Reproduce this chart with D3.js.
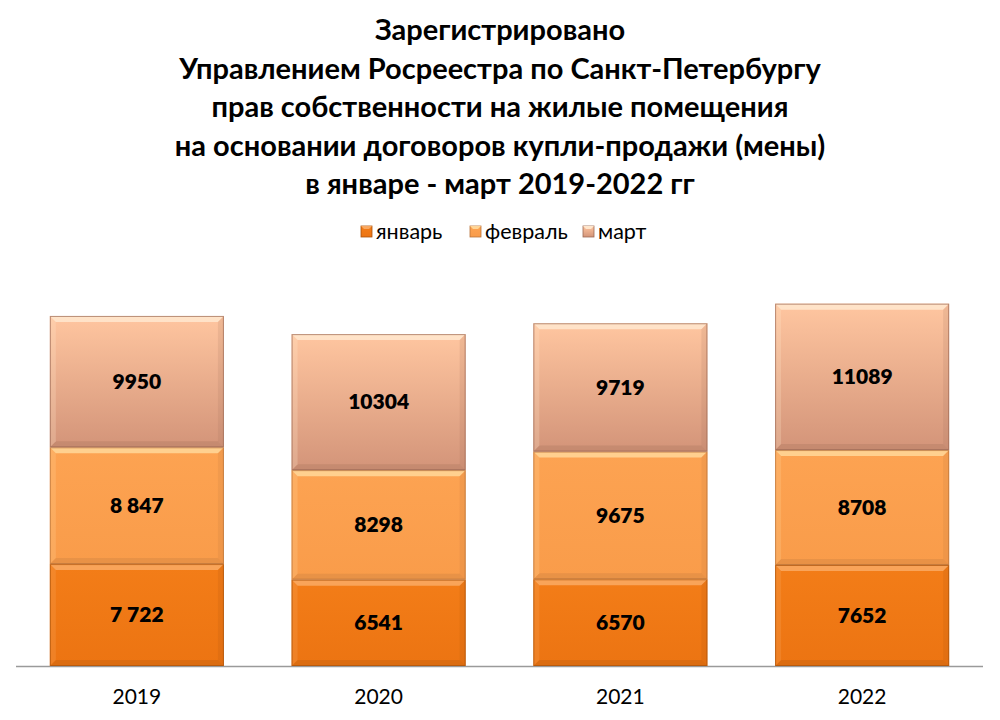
<!DOCTYPE html>
<html lang="ru">
<head>
  <meta charset="UTF-8">
  <title>Росреестр СПб</title>
</head>
<style>
  body { margin: 0; background: #fff; }
  * { font-family: "Lato", "Open Sans", sans-serif; }
  .title { font-size: 29px; font-weight: 700; fill: #000; }
  .legend-label { font-size: 21.5px; fill: #000; }
  .year-label { font-size: 21px; fill: #000; }
  .value-label { font-size: 21px; font-weight: 800; fill: #000; }
</style>
<body>
  <div id="chart"></div>

  <script src="https://d3js.org/d3.v7.min.js"></script>
  <script>

    // ## Data
    const years = ["2019", "2020", "2021", "2022"];
    const seriesNames = ["январь", "февраль", "март"];
    const january = [7722, 6541, 6570, 7652];
    const february = [8847, 8298, 9675, 8708];
    const march = [9950, 10304, 9719, 11089];
    const januaryLabels = ["7 722", "6541", "6570", "7652"];
    const februaryLabels = ["8 847", "8298", "9675", "8708"];
    const marchLabels = ["9950", "10304", "9719", "11089"];
    const titleLines = [
      "Зарегистрировано",
      "Управлением Росреестра по Санкт-Петербургу",
      "прав собственности на жилые помещения",
      "на основании договоров купли-продажи (мены)",
      "в январе - март 2019-2022 гг"
    ];

    const width = 1000, height = 720;

    const svg = d3.select("#chart")
      .append("svg")
        .attr("width", width)
        .attr("height", height);

    // colours: base gradient top/bottom, bevel highlight, edge shadow
    const palette = [
      {top: "#F37D18", bottom: "#EC7412", light: "#F9A860", dark: "#A9520C"},
      {top: "#FDA352", bottom: "#F99C4A", light: "#FFD596", dark: "#B8733A"},
      {top: "#FFC6A0", bottom: "#D39479", light: "#FFE6CC", dark: "#9C6A55"}
    ];

    const defs = svg.append("defs");
    palette.forEach((p, i) => {
      const g = defs.append("linearGradient")
        .attr("id", "grad" + i)
        .attr("x1", 0).attr("x2", 0).attr("y1", 0).attr("y2", 1);
      g.append("stop").attr("offset", "0%").attr("stop-color", p.top);
      g.append("stop").attr("offset", "100%").attr("stop-color", p.bottom);
    });

    // ## Title
    titleLines.forEach((line, i) => {
      svg.append("text")
        .attr("class", "title")
        .attr("x", 500)
        .attr("y", 40 + i * 38.5)
        .attr("text-anchor", "middle")
        .text(line);
    });

    // ## Scales
    const xScale = d3.scaleBand()
      .domain(years)
      .range([16, 983])
      .paddingInner(0.28)
      .paddingOuter(0.14);

    const yScale = d3.scaleLinear()
      .domain([0, 30000])
      .range([666, 270]);

    // ## Stack
    const table = years.map((y, i) => ({
      year: y,
      "январь": january[i],
      "февраль": february[i],
      "март": march[i]
    }));
    const labelsBySeries = [januaryLabels, februaryLabels, marchLabels];
    const stacked = d3.stack().keys(seriesNames)(table);

    // X axis line
    svg.append("line")
      .attr("x1", xScale.range()[0])
      .attr("x2", xScale.range()[1])
      .attr("y1", yScale(0) + 0.5)
      .attr("y2", yScale(0) + 0.5)
      .attr("stroke", "#9a9a9a")
      .attr("stroke-width", 1.5);

    // ## Bars with bevel
    const bw = xScale.bandwidth();
    const bev = 6;

    stacked.forEach((layer, si) => {
      const p = palette[si];
      const g = svg.append("g").attr("class", "series-" + si);
      layer.forEach((d, i) => {
        const x0 = xScale(years[i]);
        const yTop = yScale(d[1]);
        const yBot = yScale(d[0]);
        const h = yBot - yTop;
        const seg = g.append("g");

        seg.append("rect")
          .attr("x", x0).attr("y", yTop)
          .attr("width", bw).attr("height", h)
          .attr("fill", `url(#grad${si})`);

        // top bevel
        seg.append("path")
          .attr("d", `M${x0},${yTop} L${x0 + bw},${yTop} L${x0 + bw - bev},${yTop + bev} L${x0 + bev},${yTop + bev} Z`)
          .attr("fill", p.light)
          .attr("opacity", 0.9);
        // bottom bevel
        seg.append("path")
          .attr("d", `M${x0},${yBot} L${x0 + bw},${yBot} L${x0 + bw - bev},${yBot - bev} L${x0 + bev},${yBot - bev} Z`)
          .attr("fill", p.dark)
          .attr("opacity", 0.25);
        // right bevel
        seg.append("path")
          .attr("d", `M${x0 + bw},${yTop} L${x0 + bw},${yBot} L${x0 + bw - bev},${yBot - bev} L${x0 + bw - bev},${yTop + bev} Z`)
          .attr("fill", p.dark)
          .attr("opacity", 0.15);
        // left bevel
        seg.append("path")
          .attr("d", `M${x0},${yTop} L${x0},${yBot} L${x0 + bev},${yBot - bev} L${x0 + bev},${yTop + bev} Z`)
          .attr("fill", p.light)
          .attr("opacity", 0.25);
        // outline
        seg.append("rect")
          .attr("x", x0 + 0.5).attr("y", yTop + 0.5)
          .attr("width", bw - 1).attr("height", h - 1)
          .attr("fill", "none")
          .attr("stroke", p.dark)
          .attr("stroke-opacity", 0.7)
          .attr("stroke-width", 1);

        seg.append("text")
          .attr("class", "value-label")
          .attr("x", x0 + bw / 2)
          .attr("y", (yTop + yBot) / 2)
          .attr("dy", "0.35em")
          .attr("text-anchor", "middle")
          .text(labelsBySeries[si][i]);
      });
    });

    // Year labels
    svg.append("g")
      .selectAll("text")
      .data(years)
      .join("text")
        .attr("class", "year-label")
        .attr("x", d => xScale(d) + bw / 2)
        .attr("y", 704)
        .attr("text-anchor", "middle")
        .text(d => d);

    // ## Legend
    const legendX = [361, 470, 583];
    const legend = svg.append("g");
    seriesNames.forEach((name, i) => {
      const p = palette[i];
      legend.append("rect")
        .attr("x", legendX[i]).attr("y", 226)
        .attr("width", 11).attr("height", 11)
        .attr("fill", `url(#grad${i})`)
        .attr("stroke", p.dark)
        .attr("stroke-width", 0.8);
      legend.append("path")
        .attr("d", `M${legendX[i]},226 L${legendX[i] + 11},226 L${legendX[i] + 8},229 L${legendX[i] + 3},229 Z`)
        .attr("fill", p.light);
      legend.append("text")
        .attr("class", "legend-label")
        .attr("x", legendX[i] + 15)
        .attr("y", 239)
        .text(name);
    });

  </script>
</body>
</html>
